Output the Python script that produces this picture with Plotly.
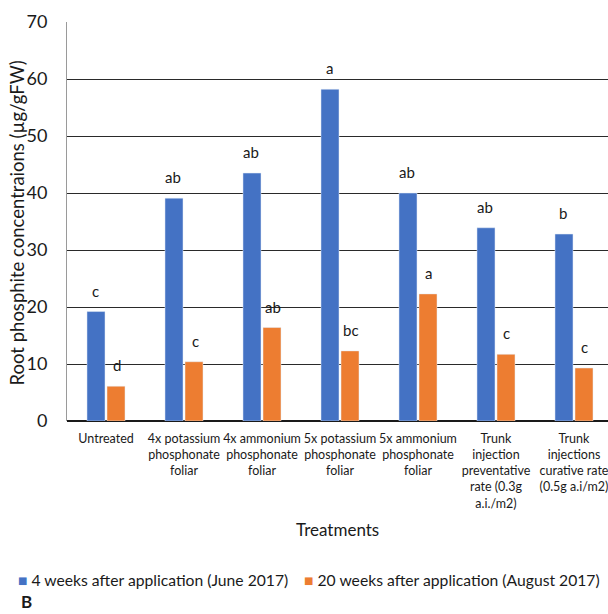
import plotly.graph_objects as go

categories = [
    "Untreated",
    "4x potassium<br>phosphonate<br>foliar",
    "4x ammonium<br>phosphonate<br>foliar",
    "5x potassium<br>phosphonate<br>foliar",
    "5x ammonium<br>phosphonate<br>foliar",
    "Trunk<br>injection<br>preventative<br>rate (0.3g<br>a.i./m2)",
    "Trunk<br>injections<br>curative rate<br>(0.5g a.i/m2)",
]
june_values = [19.2, 39.1, 43.5, 58.2, 40.0, 33.9, 32.8]
august_values = [6.1, 10.4, 16.4, 12.3, 22.3, 11.7, 9.3]
june_letters = ["c", "ab", "ab", "a", "ab", "ab", "b"]
august_letters = ["d", "c", "ab", "bc", "a", "c", "c"]
series_names = ["4 weeks after application (June 2017)", "20 weeks after application (August 2017)"]

FONT = "Lato"
TXT = "#1a1a1a"
BLUE = "#4472C4"
ORANGE = "#ED7D31"
colors = [BLUE, ORANGE]

fig = go.Figure()
fig.add_trace(go.Bar(x=categories, y=june_values, name=series_names[0], marker_color=BLUE))
fig.add_trace(go.Bar(x=categories, y=august_values, name=series_names[1], marker_color=ORANGE))

annotations = []
for i, (v, t) in enumerate(zip(june_values, june_letters)):
    annotations.append(dict(x=i, y=v, xref="x", yref="y", text=t, showarrow=False,
                            xshift=-11, yshift=10, yanchor="bottom",
                            font=dict(family=FONT, size=15, color=TXT)))
for i, (v, t) in enumerate(zip(august_values, august_letters)):
    annotations.append(dict(x=i, y=v, xref="x", yref="y", text=t, showarrow=False,
                            xshift=11, yshift=10, yanchor="bottom",
                            font=dict(family=FONT, size=15, color=TXT)))

annotations.append(dict(x=0.5, y=-0.273, xref="paper", yref="paper", text="Treatments",
                        showarrow=False, xanchor="center", yanchor="middle",
                        font=dict(family=FONT, size=17, color=TXT)))
annotations.append(dict(x=-0.0906, y=0.4975, xref="paper", yref="paper",
                        text="Root phosphite concentraions (µg/gFW)", textangle=-90,
                        showarrow=False, xanchor="center", yanchor="middle",
                        font=dict(family=FONT, size=18.5, color=TXT)))
annotations.append(dict(x=-0.0887, y=-0.452, xref="paper", yref="paper", text="<b>B</b>",
                        showarrow=False, xanchor="left", yanchor="middle",
                        font=dict(family=FONT, size=17, color=TXT)))

# legend drawn as text entries
legend_x = [-0.0906, 0.438]
for name, col, lx in zip(series_names, colors, legend_x):
    annotations.append(dict(x=lx, y=-0.3985, xref="paper", yref="paper",
                            text=f"<span style='color:{col}'>■</span> {name}",
                            showarrow=False, xanchor="left", yanchor="middle",
                            xshift=-2,
                            font=dict(family=FONT, size=15.7, color=TXT)))

fig.update_layout(
    width=608, height=614,
    margin=dict(l=67, r=0, t=22, b=193),
    paper_bgcolor="white", plot_bgcolor="white",
    barmode="group", bargap=0.487, bargroupgap=0.1,
    font=dict(family=FONT, color=TXT),
    showlegend=False,
    annotations=annotations,
)
fig.update_xaxes(range=[-0.5, 6.436], showgrid=False, showline=False, ticks="",
                 tickfont=dict(family=FONT, size=12.5, color=TXT), tickangle=0,
                 ticklabelstandoff=8)
fig.update_yaxes(range=[0, 70], dtick=10, showgrid=True, gridcolor="#2a2a2a", gridwidth=1.3,
                 zeroline=True, zerolinecolor="#1a1a1a", zerolinewidth=1.5,
                 showline=True, linecolor="#9a9a9a", linewidth=1, ticks="",
                 tickfont=dict(family=FONT, size=18, color=TXT), ticklabelstandoff=15)

fig.write_html("out.html")
